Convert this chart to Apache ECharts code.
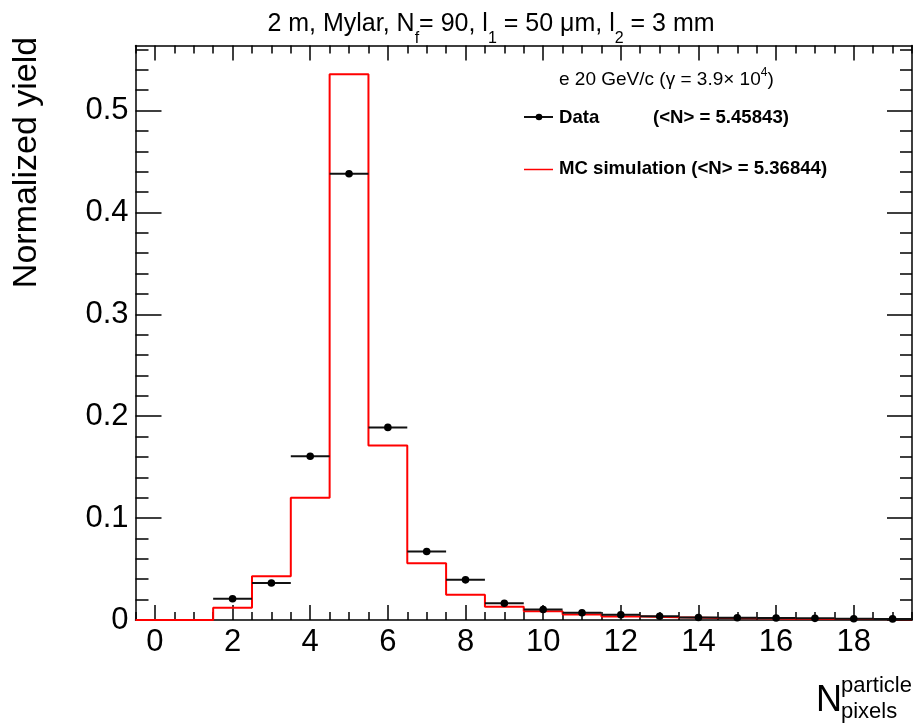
<!DOCTYPE html>
<html><head><meta charset="utf-8">
<script src="https://cdn.jsdelivr.net/npm/echarts@6/dist/echarts.min.js"></script>
<style>html,body{margin:0;padding:0;background:#fff}#c{width:914px;height:728px}</style>
</head><body><div id="c"></div>
<script>
// ---- data ----
const dataX = [2, 3, 4, 5, 6, 7, 8, 9, 10, 11, 12, 13, 14, 15, 16, 17, 18, 19];
const dataY = [0.0209, 0.0363, 0.1607, 0.438, 0.189, 0.0672, 0.0394, 0.0165, 0.0103, 0.0071, 0.0051, 0.0037, 0.0025, 0.0022, 0.0019, 0.0016, 0.0013, 0.0011];
const mcBins = [0, 1, 2, 3, 4, 5, 6, 7, 8, 9, 10, 11, 12, 13, 14, 15, 16, 17, 18, 19];
const mcY = [0, 0, 0.012, 0.043, 0.120, 0.5356, 0.1712, 0.0557, 0.0247, 0.013, 0.0085, 0.0055, 0.0035, 0.0027, 0.002, 0.0016, 0.0013, 0.0011, 0.0009, 0.0007];
const xMajorTicks = [0, 2, 4, 6, 8, 10, 12, 14, 16, 18];
const yMajorTicks = [0, 0.1, 0.2, 0.3, 0.4, 0.5];
const xMinorTicks = [];
for (let i = -1; i <= 39; i++) xMinorTicks.push(i / 2);
const yMinorTicks = [];
for (let i = 0; i <= 28; i++) yMinorTicks.push(+(i * 0.02).toFixed(2));
const binWidth = 1;

const FONT = "'Liberation Sans', Arial, Helvetica, sans-serif";

// step path for MC histogram from bin centres
const mcPath = [];
mcBins.forEach((b, i) => {
  mcPath.push([b - binWidth / 2, mcY[i]]);
  mcPath.push([b + binWidth / 2, mcY[i]]);
});

function xAx(pos, ticks, len, labels, line) {
  return {
    type: 'value', min: -0.5, max: 19.5, position: pos, offset: 0,
    axisLine: { show: line, onZero: false, lineStyle: { color: '#000', width: 1.5 } },
    axisTick: { show: true, inside: true, length: len, customValues: ticks, lineStyle: { color: '#000', width: 1.5 } },
    axisLabel: labels ? { show: true, customValues: xMajorTicks, fontSize: 31, color: '#000', margin: 7, fontFamily: FONT } : { show: false },
    splitLine: { show: false }, minorTick: { show: false }
  };
}
function yAx(pos, ticks, len, labels, line) {
  return {
    type: 'value', min: 0, max: 0.5638, position: pos, offset: 0,
    axisLine: { show: line, onZero: false, lineStyle: { color: '#000', width: 1.5 } },
    axisTick: { show: true, inside: true, length: len, customValues: ticks, lineStyle: { color: '#000', width: 1.5 } },
    axisLabel: labels ? { show: true, customValues: yMajorTicks, fontSize: 31, color: '#000', margin: 7, fontFamily: FONT } : { show: false },
    splitLine: { show: false }, minorTick: { show: false }
  };
}

const chart = echarts.init(document.getElementById('c'), null, { renderer: 'canvas' });
chart.setOption({
  animation: false,
  backgroundColor: '#fff',
  grid: { left: 135.5, right: 2, top: 45.5, bottom: 108, containLabel: false, show: false },
  xAxis: [
    xAx('bottom', xMajorTicks, 15, true, true),
    xAx('bottom', xMinorTicks, 8, false, false),
    xAx('top', xMajorTicks, 15, false, true),
    xAx('top', xMinorTicks, 8, false, false)
  ],
  yAxis: [
    yAx('left', yMajorTicks, 26, true, true),
    yAx('left', yMinorTicks, 13, false, false),
    yAx('right', yMajorTicks, 25, false, true),
    yAx('right', yMinorTicks, 12, false, false)
  ],
  series: [
    {
      name: 'MC simulation', type: 'line', xAxisIndex: 0, yAxisIndex: 0,
      data: mcPath, symbol: 'none', lineStyle: { color: '#ff0000', width: 2 }, z: 3
    },
    {
      name: 'Data', type: 'custom', xAxisIndex: 0, yAxisIndex: 0, z: 4,
      data: dataX.map((x, i) => [x, dataY[i]]),
      renderItem: function (params, api) {
        const x = api.value(0), y = api.value(1);
        const l = api.coord([x - binWidth / 2, y]);
        const r = api.coord([x + binWidth / 2, y]);
        const c = api.coord([x, y]);
        return {
          type: 'group', children: [
            { type: 'line', shape: { x1: l[0], y1: l[1], x2: r[0], y2: r[1] }, style: { stroke: '#111', lineWidth: 2 } },
            { type: 'circle', shape: { cx: c[0], cy: c[1], r: 3.8 }, style: { fill: '#000' } }
          ]
        };
      }
    }
  ],
  graphic: [
    { type: 'text', x: 491, y: 24, style: {
        text: '2 m, Mylar, N{s|f}= 90, l{s|1} = 50 μm, l{s|2} = 3 mm',
        fontSize: 25, fontFamily: FONT, fill: '#000', align: 'center', verticalAlign: 'middle',
        rich: { s: { fontSize: 16, fontFamily: FONT, fill: '#000', padding: [30, 0, 0, 0] } }
    } },
    { type: 'text', x: 27, y: 162.5, rotation: Math.PI / 2, style: {
        text: 'Normalized yield', fontSize: 34, fontFamily: FONT, fill: '#000', align: 'center', verticalAlign: 'middle'
    } },
    { type: 'text', x: 816, y: 701, style: { text: 'N', fontSize: 36, fontFamily: FONT, fill: '#000', align: 'left', verticalAlign: 'middle' } },
    { type: 'text', x: 841, y: 686, style: { text: 'particle', fontSize: 22, fontFamily: FONT, fill: '#000', align: 'left', verticalAlign: 'middle' } },
    { type: 'text', x: 841, y: 712, style: { text: 'pixels', fontSize: 22, fontFamily: FONT, fill: '#000', align: 'left', verticalAlign: 'middle' } },
    { type: 'text', x: 559, y: 79.5, style: {
        text: 'e 20 GeV/c (γ = 3.9× 10{u|4})', fontSize: 19, fontFamily: FONT, fill: '#000', align: 'left', verticalAlign: 'middle',
        rich: { u: { fontSize: 12, fontFamily: FONT, fill: '#000', padding: [0, 0, 13, 0] } }
    } },
    { type: 'line', shape: { x1: 524, y1: 117, x2: 553, y2: 117 }, style: { stroke: '#111', lineWidth: 2 } },
    { type: 'circle', shape: { cx: 539, cy: 117, r: 3.3 }, style: { fill: '#000' } },
    { type: 'text', x: 559, y: 117.5, style: { text: 'Data', fontSize: 18.6, fontWeight: 'bold', fontFamily: FONT, fill: '#000', align: 'left', verticalAlign: 'middle' } },
    { type: 'text', x: 653, y: 117.5, style: { text: '(<N> = 5.45843)', fontSize: 18.6, fontWeight: 'bold', fontFamily: FONT, fill: '#000', align: 'left', verticalAlign: 'middle' } },
    { type: 'line', shape: { x1: 524, y1: 169.5, x2: 553, y2: 169.5 }, style: { stroke: '#ff0000', lineWidth: 1.5 } },
    { type: 'text', x: 559, y: 168.5, style: { text: 'MC simulation (<N> = 5.36844)', fontSize: 18.6, fontWeight: 'bold', fontFamily: FONT, fill: '#000', align: 'left', verticalAlign: 'middle' } }
  ]
});
</script>
</body></html>
